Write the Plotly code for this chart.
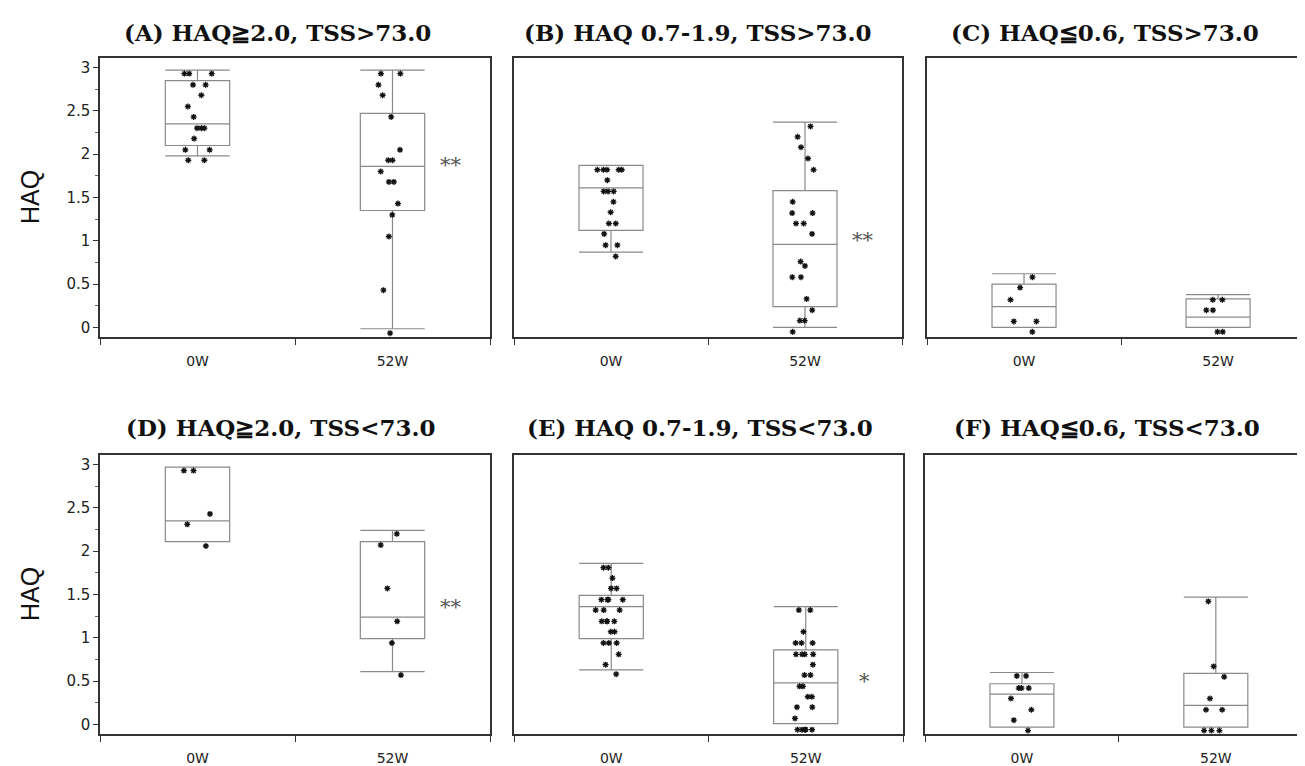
import plotly.graph_objects as go

# ---------------- data ----------------
categories = ["0W", "52W"]

panel_titles = [
    "(A) HAQ≧2.0, TSS>73.0",
    "(B) HAQ 0.7-1.9, TSS>73.0",
    "(C) HAQ≦0.6, TSS>73.0",
    "(D) HAQ≧2.0, TSS<73.0",
    "(E) HAQ 0.7-1.9, TSS<73.0",
    "(F) HAQ≦0.6, TSS<73.0",
]

# box statistics per panel: [0W, 52W]
A_q1 = [2.10, 1.35]; A_med = [2.35, 1.86]; A_q3 = [2.85, 2.47]; A_lo = [1.98, -0.015]; A_hi = [2.97, 2.97]
B_q1 = [1.12, 0.24]; B_med = [1.61, 0.96]; B_q3 = [1.87, 1.58]; B_lo = [0.87, 0.00]; B_hi = [1.87, 2.37]
C_q1 = [0.00, 0.00]; C_med = [0.24, 0.12]; C_q3 = [0.50, 0.33]; C_lo = [0.00, 0.00]; C_hi = [0.62, 0.38]
D_q1 = [2.11, 0.99]; D_med = [2.35, 1.24]; D_q3 = [2.97, 2.11]; D_lo = [2.11, 0.61]; D_hi = [2.97, 2.24]
E_q1 = [0.99, 0.01]; E_med = [1.36, 0.48]; E_q3 = [1.49, 0.86]; E_lo = [0.63, 0.01]; E_hi = [1.86, 1.36]
F_q1 = [-0.03, -0.03]; F_med = [0.35, 0.22]; F_q3 = [0.47, 0.59]; F_lo = [-0.03, -0.03]; F_hi = [0.60, 1.47]

# individual HAQ values
A_0W = [2.93, 2.93, 2.93, 2.80, 2.80, 2.68, 2.55, 2.43, 2.30, 2.30, 2.30, 2.18, 2.05, 2.05, 1.93, 1.93]
A_52W = [2.93, 2.93, 2.80, 2.68, 2.43, 2.05, 1.93, 1.93, 1.80, 1.68, 1.68, 1.43, 1.30, 1.05, 0.43, -0.066]
B_0W = [1.82, 1.82, 1.82, 1.82, 1.82, 1.70, 1.57, 1.57, 1.57, 1.45, 1.33, 1.20, 1.20, 1.08, 0.95, 0.95, 0.82]
B_52W = [2.32, 2.20, 2.08, 1.95, 1.82, 1.45, 1.32, 1.32, 1.20, 1.20, 1.08, 0.76, 0.71, 0.58, 0.58, 0.33,
         0.20, 0.08, 0.08, -0.05]
C_0W = [0.58, 0.46, 0.32, 0.07, 0.07, -0.05]
C_52W = [0.32, 0.32, 0.20, 0.20, -0.05, -0.05]
D_0W = [2.93, 2.93, 2.43, 2.31, 2.06]
D_52W = [2.20, 2.07, 1.57, 1.19, 0.94, 0.57]
E_0W = [1.81, 1.81, 1.69, 1.57, 1.57, 1.44, 1.44, 1.44, 1.44, 1.32, 1.32, 1.32, 1.19, 1.19, 1.19, 1.19,
        1.07, 1.07, 0.94, 0.94, 0.94, 0.81, 0.69, 0.58]
E_52W = [1.32, 1.32, 1.07, 0.94, 0.94, 0.94, 0.81, 0.81, 0.81, 0.81, 0.69, 0.57, 0.57, 0.44, 0.44, 0.32,
         0.32, 0.20, 0.20, 0.07, -0.06, -0.06, -0.06, -0.06, -0.06]
F_0W = [0.56, 0.56, 0.42, 0.42, 0.42, 0.30, 0.17, 0.05, -0.07]
F_52W = [1.42, 0.67, 0.55, 0.30, 0.17, 0.17, -0.07, -0.07, -0.07]

# significance marks: text and y level beside the 52W box
sig_text = ["**", "**", "", "**", "*", ""]
sig_y = [1.87, 1.01, 0, 1.36, 0.50, 0]

y_tickvals = [0, 0.5, 1, 1.5, 2, 2.5, 3]
y_ticktext = ["0", "0.5", "1", "1.5", "2", "2.5", "3"]

stats = [
    (A_q1, A_med, A_q3, A_lo, A_hi, A_0W, A_52W),
    (B_q1, B_med, B_q3, B_lo, B_hi, B_0W, B_52W),
    (C_q1, C_med, C_q3, C_lo, C_hi, C_0W, C_52W),
    (D_q1, D_med, D_q3, D_lo, D_hi, D_0W, D_52W),
    (E_q1, E_med, E_q3, E_lo, E_hi, E_0W, E_52W),
    (F_q1, F_med, F_q3, F_lo, F_hi, F_0W, F_52W),
]

# ---------------- layout geometry (page pixels) ----------------
PAGE_W, PAGE_H = 1305, 766
OFF = 8                      # default body margin of the html page
W, H = PAGE_W - OFF, PAGE_H - OFF


def fx(px):
    return min(max((px - OFF) / W, 0.0), 1.0)


def fy(py):
    return min(max(1 - (py - OFF) / H, 0.0), 1.0)


x_dom_px = [(100, 490), (514, 902), (927, 1305), (100, 490), (514, 903), (925, 1305)]
y_dom_px = [(58, 337), (58, 337), (58, 337), (455, 734), (455, 734), (455, 734)]
title_x_px = [277, 698, 1105, 280, 700, 1107]
title_y_px = [33, 33, 33, 427, 427, 427]
x_ranges = [[-0.5, 1.5], [-0.5, 1.5], [-0.5, 1.448], [-0.5, 1.5], [-0.5, 1.5], [-0.5, 1.46]]
y_range = [-0.11, 3.11]

fig = go.Figure()
box_line = "#8a8a8a"
frame = "#333333"

for i, (q1, med, q3, lo, hi, v0, v1) in enumerate(stats):
    n = i + 1
    xa = "x" if n == 1 else f"x{n}"
    ya = "y" if n == 1 else f"y{n}"
    fig.add_trace(go.Box(
        x=categories, q1=q1, median=med, q3=q3, lowerfence=lo, upperfence=hi,
        width=0.33, whiskerwidth=1, fillcolor="rgba(0,0,0,0)",
        line=dict(color=box_line, width=1.2), boxpoints=False,
        xaxis=xa, yaxis=ya, showlegend=False, hoverinfo="skip",
    ))
    fig.add_trace(go.Box(
        x=[categories[0]] * len(v0) + [categories[1]] * len(v1), y=v0 + v1,
        width=0.33, boxpoints="all", jitter=0.5, pointpos=0,
        fillcolor="rgba(0,0,0,0)", line=dict(color="rgba(0,0,0,0)", width=0),
        marker=dict(symbol="asterisk-open", size=5, color="#111111",
                    line=dict(color="#111111", width=1.3)),
        xaxis=xa, yaxis=ya, showlegend=False,
    ))

    x0, x1 = x_dom_px[i]
    y0, y1 = y_dom_px[i]
    left = n in (1, 4)
    right_cut = n in (3, 6)   # right border lies beyond the picture edge
    fig.update_layout(**{
        ("xaxis" if n == 1 else f"xaxis{n}"): dict(
            domain=[fx(x0), fx(x1)], anchor=ya, type="category",
            categoryorder="array", categoryarray=categories,
            range=x_ranges[i], showline=True, linecolor=frame, linewidth=1.5,
            mirror=True, ticks="outside", tickson="boundaries", ticklen=6,
            tickcolor=frame, showgrid=False, zeroline=False, ticklabelstandoff=10,
            tickfont=dict(family="DejaVu Sans", size=14, color="#222"),
        ),
        ("yaxis" if n == 1 else f"yaxis{n}"): dict(
            domain=[fy(y1), fy(y0)], anchor=xa, range=y_range,
            showline=True, linecolor=frame, linewidth=1.5, mirror=not right_cut,
            showgrid=False, zeroline=False,
            ticks="outside" if left else "", ticklen=5, tickcolor=frame,
            tickvals=y_tickvals, ticktext=y_ticktext, showticklabels=left,
            tickfont=dict(family="DejaVu Sans", size=15, color="#222"),
            minor=dict(ticks="outside" if left else "", dtick=0.25, ticklen=3,
                       tickcolor="#666"),
        ),
    })

    fig.add_annotation(
        text=f"<b>{panel_titles[i]}</b>", xref="paper", yref="paper",
        x=fx(title_x_px[i]), y=fy(title_y_px[i]), xanchor="center", yanchor="middle",
        showarrow=False, font=dict(family="DejaVu Serif", size=23, color="#111"),
    )
    if sig_text[i]:
        fig.add_annotation(
            text=sig_text[i], xref=xa, yref=ya, x=1.3, y=sig_y[i],
            xanchor="center", yanchor="middle", showarrow=False,
            font=dict(family="DejaVu Serif", size=21, color="#555"),
        )

for yc in (197, 594):
    fig.add_annotation(
        text="HAQ", xref="paper", yref="paper", x=fx(30), y=fy(yc),
        xanchor="center", yanchor="middle", textangle=-90, showarrow=False,
        font=dict(family="Liberation Sans", size=25, color="#111"),
    )

fig.update_layout(
    width=W, height=H, margin=dict(l=0, r=0, t=0, b=0, autoexpand=False),
    paper_bgcolor="white", plot_bgcolor="white", boxmode="overlay",
)

fig.write_html("out.html")
